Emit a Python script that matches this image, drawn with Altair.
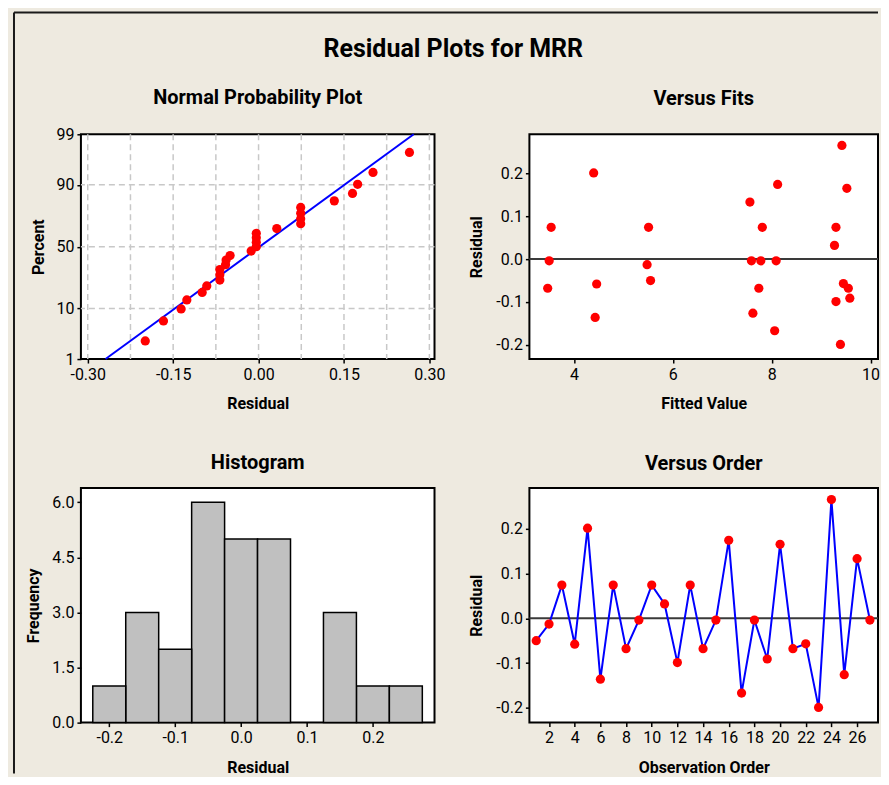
import altair as alt
import numpy as np
import pandas as pd
from statistics import NormalDist

# ---------------- data ----------------
observation_order = list(range(1, 28))
residuals = [-0.050, -0.013, 0.074, -0.058, 0.201, -0.136, 0.074, -0.068, -0.004,
             0.074, 0.032, -0.099, 0.074, -0.068, -0.004, 0.174, -0.167, -0.004,
             -0.091, 0.165, -0.068, -0.057, -0.199, 0.265, -0.126, 0.133, -0.004]
fitted_values = [5.55, 5.48, 3.54, 4.46, 4.40, 4.43, 5.51, 3.47, 3.50,
                 7.81, 9.27, 9.30, 9.30, 7.74, 7.59, 8.12, 8.06, 7.78,
                 9.58, 9.52, 9.55, 9.45, 9.39, 9.42, 7.62, 7.56, 8.09]

percent_ticks = [1, 10, 50, 90, 99]
percent_grid = [10, 50, 90]
npp_x_ticks = [-0.30, -0.15, 0.00, 0.15, 0.30]
npp_x_grid = [-0.30, -0.225, -0.15, -0.075, 0.0, 0.075, 0.15, 0.225, 0.30]
fit_line_percent = [1, 99]
hist_x_ticks = [-0.2, -0.1, 0.0, 0.1, 0.2]
freq_ticks = [0.0, 1.5, 3.0, 4.5, 6.0]
fits_ticks = [4, 6, 8, 10]
resid_ticks = [-0.2, -0.1, 0.0, 0.1, 0.2]
order_ticks = list(range(2, 27, 2))
zero_line = [0.0]
frame_marker = [0]

FONT = "Roboto"
BEIGE = "#EEEAE0"
GRID = "#C8C8C8"
MINUS_FIX = "replace(datum.label, '\u2212', '-')"

df = pd.DataFrame({"order": observation_order, "residual": residuals, "fit": fitted_values})
n = len(residuals)
mu = float(np.mean(residuals))
sd = float(np.std(residuals, ddof=1))
z_ticks = [NormalDist().inv_cdf(p / 100) for p in percent_ticks]


def ax(title, values, fmt=None, **kw):
    d = dict(title=title, values=values, labelFont=FONT, labelFontSize=16, labelColor="black",
             titleFont=FONT, titleFontSize=16, titleFontWeight="bold", titleColor="black",
             tickColor="black", tickSize=4, tickWidth=1.5, domain=False, grid=False,
             labelPadding=3, titlePadding=14, labelExpr=MINUS_FIX)
    if fmt:
        d["format"] = fmt
    d.update(kw)
    return alt.Axis(**d)


def ttl(text, offset):
    return alt.TitleParams(text, font=FONT, fontSize=20, fontWeight="bold", color="black",
                           anchor="middle", frame="group", baseline="alphabetic", offset=offset)


pt = dict(filled=True, color="red", size=85, opacity=1)

# ---------------- Normal probability plot ----------------
x_npp = alt.Scale(domain=[-0.312, 0.309], nice=False, zero=False)
y_npp = alt.Scale(domain=[z_ticks[0], z_ticks[-1]], nice=False, zero=False)
x_npp_axis = ax("Residual", npp_x_ticks, ".2f")
y_npp_axis = ax("Percent", z_ticks, titlePadding=9,
                labelExpr="format(cumulativeNormal(datum.value) * 100, '.0f')")

npp_vgrid = alt.Chart(pd.DataFrame({"g": npp_x_grid})).mark_rule(
    color=GRID, strokeDash=[6, 4], strokeWidth=1.5).encode(
    x=alt.X("g:Q", scale=x_npp, axis=x_npp_axis))
npp_hgrid = alt.Chart(pd.DataFrame({"p": percent_grid})).transform_calculate(
    z="quantileNormal(datum.p / 100)").mark_rule(
    color=GRID, strokeDash=[6, 4], strokeWidth=1.5).encode(
    y=alt.Y("z:Q", scale=y_npp, axis=y_npp_axis))
npp_line = alt.Chart(pd.DataFrame({"pct": fit_line_percent})).transform_calculate(
    z="quantileNormal(datum.pct / 100)").transform_calculate(
    xr=f"{mu} + {sd} * datum.z").mark_line(color="blue", strokeWidth=2).encode(
    x=alt.X("xr:Q", scale=x_npp, axis=x_npp_axis),
    y=alt.Y("z:Q", scale=y_npp, axis=y_npp_axis))
npp_pts = alt.Chart(df).transform_window(
    rank="row_number()", sort=[alt.SortField("residual", order="ascending")]).transform_calculate(
    z=f"quantileNormal((datum.rank - 0.3) / ({n} + 0.4))").mark_point(**pt).encode(
    x=alt.X("residual:Q", scale=x_npp, axis=x_npp_axis),
    y=alt.Y("z:Q", scale=y_npp, axis=y_npp_axis))
npp = alt.layer(npp_vgrid, npp_hgrid, npp_line, npp_pts).properties(
    width=354, height=225, title=ttl("Normal Probability Plot", 2))

# ---------------- Versus fits ----------------
y_res = alt.Scale(domain=[-0.233, 0.291], nice=False, zero=False)
y_res_axis = ax("Residual", resid_ticks, ".1f", titlePadding=11)
x_fit = alt.Scale(domain=[3.1, 10.15], nice=False, zero=False)
x_fit_axis = ax("Fitted Value", fits_ticks, "d")

fits_zero = alt.Chart(pd.DataFrame({"r": zero_line})).mark_rule(
    color="#3a3a3a", strokeWidth=2).encode(y=alt.Y("r:Q", scale=y_res, axis=y_res_axis))
fits_pts = alt.Chart(df).mark_point(**pt).encode(
    x=alt.X("fit:Q", scale=x_fit, axis=x_fit_axis),
    y=alt.Y("residual:Q", scale=y_res, axis=y_res_axis))
fits = alt.layer(fits_zero, fits_pts).properties(
    width=349, height=225, title=ttl("Versus Fits", 9))

# ---------------- Histogram ----------------
x_hist = alt.Scale(domain=[-0.243, 0.2935], nice=False, zero=False)
y_hist = alt.Scale(domain=[0, 6.39], nice=False, zero=False)
x_hist_axis = ax("Residual", hist_x_ticks, ".1f")
y_hist_axis = ax("Frequency", freq_ticks, ".1f", titlePadding=10)

hist_bars = alt.Chart(df).transform_bin(
    as_=["bs", "be"], field="residual",
    bin=alt.Bin(extent=[-0.225, 0.275], step=0.05, nice=False)).transform_aggregate(
    count="count()", groupby=["bs", "be"]).mark_bar(
    fill="#C0C0C0", stroke="black", strokeWidth=1.5).encode(
    x=alt.X("bs:Q", scale=x_hist, axis=x_hist_axis),
    x2="be:Q",
    y=alt.Y("count:Q", scale=y_hist, axis=y_hist_axis),
    y2=alt.datum(0))
deco = pd.DataFrame({"m": frame_marker})
frame_left = alt.Chart(deco).mark_rule(color="#1a1a1a", strokeWidth=2).encode(
    x=alt.value(-67), y=alt.value(-476), y2=alt.value(286))
frame_top = alt.Chart(deco).mark_rule(color="#1a1a1a", strokeWidth=2).encode(
    x=alt.value(-67), x2=alt.value(798), y=alt.value(-476))
hist = alt.layer(frame_left, frame_top, hist_bars).properties(
    width=354, height=235, title=ttl("Histogram", -478))

# ---------------- Versus order ----------------
x_ord = alt.Scale(domain=[0.47, 27.63], nice=False, zero=False)
x_ord_axis = ax("Observation Order", order_ticks, "d")
ord_zero = alt.Chart(pd.DataFrame({"r": zero_line})).mark_rule(
    color="#3a3a3a", strokeWidth=2).encode(y=alt.Y("r:Q", scale=y_res, axis=y_res_axis))
ord_line = alt.Chart(df).mark_line(color="blue", strokeWidth=2).encode(
    x=alt.X("order:Q", scale=x_ord, axis=x_ord_axis),
    y=alt.Y("residual:Q", scale=y_res, axis=y_res_axis))
ord_pts = alt.Chart(df).mark_point(**pt).encode(
    x=alt.X("order:Q", scale=x_ord, axis=x_ord_axis),
    y=alt.Y("residual:Q", scale=y_res, axis=y_res_axis))
order = alt.layer(ord_zero, ord_line, ord_pts).properties(
    width=349, height=235, title=ttl("Versus Order", -2))

chart = alt.concat(
    npp, fits, hist, order, columns=2,
    spacing={"row": 129, "column": 95}, bounds="flush"
).properties(
    title=alt.TitleParams("Residual Plots for MRR", font=FONT, fontSize=25, fontWeight="bold",
                          color="black", anchor="middle", baseline="alphabetic",
                          offset=-72, dx=7),
    background=BEIGE,
    padding={"left": 4, "top": 2, "right": 0, "bottom": 0},
).configure_view(stroke="black", strokeWidth=2, fill="white")

chart.save("out.html", embed_options={"renderer": "svg", "actions": False})
